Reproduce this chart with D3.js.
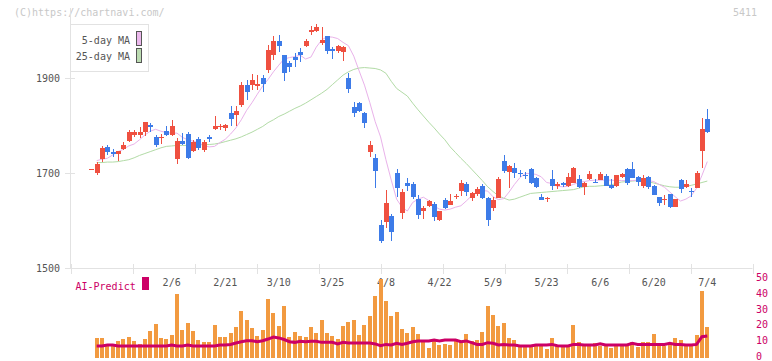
<!DOCTYPE html>
<html><head><meta charset="utf-8">
<script src="https://cdn.jsdelivr.net/npm/d3@7"></script>
<style>body{margin:0;background:#fff}svg{display:block}text{font-family:"DejaVu Sans Mono",monospace;font-size:10px}</style>
</head><body><div id="c"></div>
<script>
const openP  = [1708,1699,1729,1755,1744,1741,1750,1768,1781,1780,1787,1801,1776,1773,1788,1781,1729,1768,1782,1747,1771,1748,1776,1793,1797,1794,1826,1822,1843,1885,1885,1884,1899,1917,1948,1978,1948,1931,1945,1955,1967,1997,1998,1973,1988,1962,1956,1954,1900,1838,1847,1826,1745,1732,1591,1597,1609,1699,1616,1680,1677,1645,1619,1631,1635,1601,1643,1633,1649,1662,1677,1648,1656,1673,1648,1627,1647,1726,1703,1710,1701,1696,1708,1689,1649,1645,1687,1673,1678,1673,1680,1687,1670,1687,1682,1685,1694,1675,1673,1692,1708,1708,1691,1673,1691,1673,1649,1643,1656,1629,1685,1671,1662,1668,1747,1814];
const highP  = [1708,1723,1756,1759,1750,1747,1766,1790,1790,1797,1808,1806,1780,1782,1800,1812,1773,1784,1786,1770,1775,1770,1781,1819,1803,1803,1841,1841,1892,1896,1908,1906,1906,1969,1988,1990,1948,1936,1953,1964,1982,2009,2014,2008,1988,1966,1969,1968,1911,1850,1850,1829,1767,1741,1602,1664,1614,1708,1666,1689,1681,1654,1631,1644,1640,1621,1647,1655,1655,1685,1681,1659,1671,1677,1650,1649,1691,1738,1717,1722,1707,1703,1710,1692,1655,1649,1706,1681,1681,1699,1712,1696,1682,1705,1688,1703,1697,1687,1696,1700,1711,1724,1694,1696,1694,1675,1650,1654,1656,1645,1687,1685,1668,1705,1815,1835];
const lowP   = [1708,1696,1724,1738,1734,1726,1748,1765,1776,1773,1777,1787,1755,1761,1778,1778,1719,1758,1730,1744,1749,1745,1766,1790,1790,1788,1799,1799,1838,1854,1875,1875,1871,1910,1938,1955,1894,1912,1924,1934,1965,1990,1996,1969,1951,1941,1953,1936,1869,1818,1829,1795,1734,1669,1553,1584,1557,1650,1603,1663,1645,1603,1603,1629,1598,1599,1625,1633,1645,1651,1652,1641,1651,1645,1588,1619,1647,1700,1669,1690,1691,1688,1676,1668,1643,1640,1665,1666,1671,1671,1678,1668,1654,1685,1678,1685,1673,1666,1670,1690,1675,1689,1673,1668,1666,1654,1631,1633,1627,1629,1658,1668,1650,1668,1710,1785];
const closeP = [1708,1720,1753,1745,1740,1746,1759,1787,1786,1786,1807,1797,1760,1776,1781,1799,1768,1761,1732,1766,1752,1766,1772,1799,1800,1801,1814,1831,1885,1871,1896,1887,1887,1959,1978,1967,1910,1924,1938,1948,1978,2001,2008,1979,1957,1957,1967,1966,1877,1827,1831,1805,1759,1705,1557,1637,1576,1668,1660,1673,1649,1611,1627,1641,1608,1619,1627,1641,1652,1680,1659,1657,1666,1647,1601,1643,1687,1705,1715,1699,1698,1694,1678,1670,1643,1647,1673,1676,1675,1691,1710,1671,1678,1698,1678,1698,1673,1668,1696,1698,1680,1690,1682,1689,1671,1654,1636,1645,1629,1645,1666,1677,1660,1701,1793,1787];
const ma5  = [null,1726,1729,1731,1738,1745,1750,1757,1761,1770,1780,1788,1792,1788,1785,1784,1784,1775,1770,1767,1764,1758,1755,1756,1764,1771,1782,1795,1812,1832,1848,1866,1883,1897,1913,1927,1940,1943,1945,1948,1940,1944,1965,1980,1987,1986,1983,1975,1968,1946,1915,1885,1848,1808,1776,1728,1685,1645,1628,1620,1638,1645,1649,1642,1630,1624,1622,1624,1628,1631,1641,1652,1661,1663,1662,1650,1644,1646,1660,1676,1690,1699,1699,1697,1692,1680,1678,1672,1671,1672,1676,1680,1682,1684,1685,1685,1685,1685,1684,1684,1684,1684,1685,1685,1684,1682,1676,1670,1660,1650,1641,1645,1652,1668,1695,1724];
const ma25 = [null,1722,1722,1723,1723,1724,1726,1728,1732,1737,1741,1745,1749,1753,1756,1757,1758,1758,1758,1759,1759,1760,1760,1761,1763,1766,1769,1772,1776,1781,1786,1792,1798,1806,1812,1819,1824,1830,1836,1841,1847,1854,1861,1868,1876,1886,1896,1906,1913,1918,1921,1922,1921,1920,1917,1910,1893,1878,1870,1862,1847,1833,1820,1807,1795,1782,1770,1755,1743,1731,1720,1708,1696,1684,1671,1661,1652,1647,1643,1645,1649,1653,1657,1658,1659,1660,1661,1662,1663,1664,1665,1668,1671,1672,1672,1673,1674,1675,1678,1681,1682,1683,1684,1683,1681,1679,1676,1673,1671,1670,1670,1672,1674,1677,1680,1683];
const volume = [null,12.9,12.9,8.6,8.6,10.8,12.0,13.3,10.8,8.9,12.0,17.1,21.5,12.9,12.0,14.6,40.5,17.7,22.2,17.1,11.4,10.1,10.1,20.9,13.3,13.3,15.8,19.6,29.7,24.3,19.2,13.9,17.7,37.3,28.5,20.3,32.9,13.3,16.5,13.9,13.3,19.6,15.8,24.1,15.8,13.9,12.0,20.3,22.8,24.3,14.6,20.9,26.6,39.2,50.0,36.3,26.6,29.2,18.1,16.0,19.6,15.2,11.0,6.5,10.8,8.2,8.9,8.2,12.0,10.3,15.2,10.8,11.4,16.7,32.9,27.2,20.3,22.2,12.9,11.4,7.2,8.2,7.2,8.9,8.2,5.7,12.9,7.6,8.2,7.2,20.9,10.3,7.6,8.2,9.7,7.6,7.8,6.5,8.2,7.6,8.2,10.3,7.2,10.3,10.3,15.2,7.6,7.6,8.2,12.9,11.4,7.6,7.6,14.6,42.6,19.6];
const aiPredict = [null,7.6,7.6,8.2,8.2,7.6,7.6,7.6,7.6,7.6,7.6,7.6,7.6,7.6,7.6,8.2,7.6,7.6,8.2,7.6,7.6,7.6,7.6,7.6,8.2,8.2,8.6,9.5,10.3,10.9,10.9,10.3,10.9,12.0,13.3,12.7,11.7,10.3,9.9,10.6,10.3,10.6,10.6,9.9,9.9,9.9,8.9,9.9,9.5,9.5,9.5,9.5,9.5,8.9,7.8,8.6,8.2,9.3,8.6,9.3,10.3,10.8,10.8,10.8,11.4,10.8,11.4,11.4,11.4,10.3,10.8,9.7,8.6,8.6,9.7,9.3,8.2,8.6,8.2,8.2,7.6,7.6,7.6,8.2,8.2,8.2,8.6,7.8,7.6,7.6,8.6,8.6,8.2,8.2,8.2,9.0,8.2,8.2,8.2,8.2,8.2,9.3,8.6,8.6,8.6,8.6,8.6,8.6,9.3,8.6,8.6,8.2,8.2,8.6,13.5,13.9];
const dateLabels = ["2/6","2/21","3/10","3/25","4/8","4/22","5/9","5/23","6/6","6/20","7/4"];
const dateLabelIndex = [15,25,35,45,55,65,75,85,95,105,115];
const priceTicks = [1500,1700,1900];
const volumeTicks = [0,10,20,30,40,50];
const legendItems = ["5-day MA","25-day MA"];

const W = 772, H = 361;
const red = "#ef5040", blue = "#3d7be8", orange = "#f29a40", ai = "#cc0066";
const svg = d3.select("#c").append("svg").attr("width", W).attr("height", H);

const n = closeP.length;
const x = d3.scaleLinear().domain([0, n - 1]).range([91.3, 707.3]);
const y = d3.scaleLinear().domain([1500, 1900]).range([268, 78]);
const yv = d3.scaleLinear().domain([0, 50]).range([358, 279]);
const gridX = d3.scaleLinear().domain([0, 11]).range([70.5, 752.5]);

// watermark
svg.append("text").attr("x", 14).attr("y", 16).attr("fill", "#c8c8c8").text("(C)https://chartnavi.com/");
svg.append("text").attr("x", 757).attr("y", 16).attr("fill", "#c8c8c8").attr("text-anchor", "end").text("5411");

// axes
const axisCol = "#e2e2e2";
svg.append("line").attr("x1", 70.5).attr("x2", 70.5).attr("y1", 8).attr("y2", 268).attr("stroke", axisCol);
svg.append("line").attr("x1", 70.5).attr("x2", 752.5).attr("y1", 268.5).attr("y2", 268.5).attr("stroke", axisCol);
const gy = svg.append("g");
gy.selectAll("line").data(priceTicks).join("line")
  .attr("x1", 65).attr("x2", 75).attr("y1", d => Math.round(y(d)) + 0.5).attr("y2", d => Math.round(y(d)) + 0.5).attr("stroke", axisCol);
gy.selectAll("text").data(priceTicks).join("text")
  .attr("x", 60).attr("y", d => y(d)).attr("dy", "0.35em").attr("text-anchor", "end").attr("fill", "#555").text(d => d);
svg.append("g").selectAll("line").data(d3.range(0, 12)).join("line")
  .attr("x1", d => Math.round(gridX(d)) + 0.5).attr("x2", d => Math.round(gridX(d)) + 0.5)
  .attr("y1", 264).attr("y2", 274).attr("stroke", axisCol);
svg.append("g").selectAll("text").data(dateLabels).join("text")
  .attr("x", (d, i) => x(dateLabelIndex[i])).attr("y", 282).attr("dy", "0.35em")
  .attr("text-anchor", "middle").attr("fill", "#555").text(d => d);

// moving averages
const idx = d3.range(n);
const lineGen = arr => d3.line().defined(i => arr[i] != null).x(i => x(i)).y(i => y(arr[i]));
svg.append("path").attr("d", lineGen(ma25)(idx)).attr("fill", "none").attr("stroke", "#b2dba6").attr("stroke-width", 1);
svg.append("path").attr("d", lineGen(ma5)(idx)).attr("fill", "none").attr("stroke", "#e9b2ea").attr("stroke-width", 1);

// candles
const cg = svg.append("g").attr("shape-rendering", "crispEdges");
idx.forEach(i => {
  const o = openP[i], c = closeP[i], col = c >= o ? red : blue;
  const cx = Math.round(x(i));
  cg.append("line").attr("x1", cx + 0.5).attr("x2", cx + 0.5).attr("y1", y(highP[i])).attr("y2", y(lowP[i])).attr("stroke", col);
  const top = y(Math.max(o, c)), bot = y(Math.min(o, c));
  cg.append("rect").attr("x", cx - 2).attr("width", 5).attr("y", top).attr("height", Math.max(1, bot - top)).attr("fill", col);
});

// legend
const lg = svg.append("g");
lg.append("rect").attr("x", 70.5).attr("y", 24.5).attr("width", 78).attr("height", 47).attr("fill", "#fff").attr("stroke", "#e2e2e2");
const swatch = ["#ebb8ec", "#bcdcb2"];
legendItems.forEach((t, k) => {
  lg.append("text").attr("x", 130).attr("y", 40.5 + k * 15.5).attr("dy", "0.35em").attr("text-anchor", "end").attr("fill", "#555").text(t);
  lg.append("rect").attr("x", 136.5).attr("y", 31.5 + k * 17).attr("width", 5).attr("height", 14).attr("fill", swatch[k]).attr("stroke", "#555");
});

// AI predict panel
svg.append("text").attr("x", 75.5).attr("y", 286).attr("dy", "0.35em").attr("fill", ai).text("AI-Predict");
svg.append("rect").attr("x", 142).attr("y", 277).attr("width", 7).attr("height", 13).attr("fill", ai);
svg.append("g").attr("shape-rendering", "crispEdges").selectAll("rect").data(idx.filter(i => volume[i] != null)).join("rect")
  .attr("x", i => Math.round(x(i)) - 2).attr("width", 4)
  .attr("y", i => yv(volume[i])).attr("height", i => yv(0) - yv(volume[i])).attr("fill", orange);
svg.append("path").attr("d", d3.line().defined(i => aiPredict[i] != null).x(i => x(i)).y(i => yv(aiPredict[i]))(idx))
  .attr("fill", "none").attr("stroke", ai).attr("stroke-width", 3);
svg.append("g").selectAll("text").data(volumeTicks).join("text")
  .attr("x", 756).attr("y", d => yv(d) - 1.5).attr("dy", "0.35em").attr("fill", ai).text(d => d);
</script></body></html>
